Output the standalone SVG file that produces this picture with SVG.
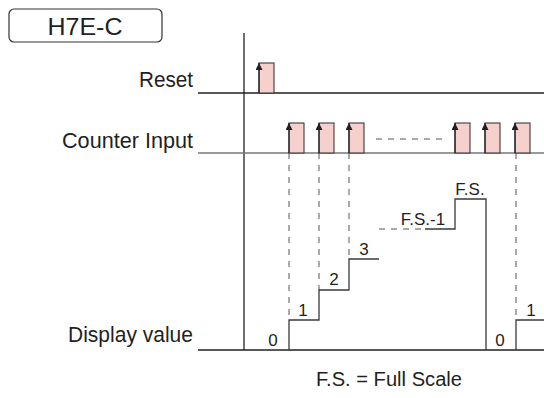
<svg xmlns="http://www.w3.org/2000/svg" width="544" height="398" viewBox="0 0 544 398">
<defs>
<style>
text{font-family:"Liberation Sans",Arial,sans-serif;fill:#231f20}
.lbl{font-size:22px;text-anchor:end}
.num{font-size:17px;text-anchor:middle}
.ax{stroke:#231f20;stroke-width:1.3;fill:none}
.pulse{fill:#f5d0cc;stroke:#3a3a3a;stroke-width:1.1}
.arr{stroke:#231f20;stroke-width:1.2;marker-end:url(#ah)}
.dash{stroke:#555;stroke-width:1;stroke-dasharray:6,6;fill:none}
.step{stroke:#3a3a3a;stroke-width:1.3;fill:none}
</style>
<marker id="ah" viewBox="0 0 10 10" refX="10" refY="5" markerWidth="7" markerHeight="7" markerUnits="userSpaceOnUse" orient="auto">
<path d="M0,0 L10,5 L0,10 z" fill="#231f20"/>
</marker>
</defs>
<g id="title">
<rect x="9" y="9" width="153" height="33" rx="5" fill="#fff" stroke="#333" stroke-width="1.2"/>
<text x="85" y="35" style="font-size:24px" text-anchor="middle" textLength="75" lengthAdjust="spacingAndGlyphs">H7E-C</text>
</g>
<g id="axes">
<line class="ax" x1="244" y1="33" x2="244" y2="350"/>
<line class="ax" x1="198" y1="93" x2="544" y2="93"/>
<line x1="198" y1="153" x2="544" y2="153" stroke="#777" stroke-width="1.3"/>
<line class="ax" x1="198" y1="350" x2="544" y2="350"/>
</g>
<g id="labels">
<text class="lbl" x="193" y="87" textLength="54" lengthAdjust="spacingAndGlyphs">Reset</text>
<text class="lbl" x="193" y="148" textLength="131" lengthAdjust="spacingAndGlyphs">Counter Input</text>
<text class="lbl" x="193" y="342" textLength="125" lengthAdjust="spacingAndGlyphs">Display value</text>
</g>
<g id="reset-pulse">
<rect class="pulse" x="259" y="63" width="15" height="30"/>
<line class="arr" x1="259" y1="93" x2="259" y2="63"/>
</g>
<g id="counter-pulses">
<rect class="pulse" x="289" y="123" width="15" height="30"/>
<line class="arr" x1="289" y1="153" x2="289" y2="123"/>
<rect class="pulse" x="319" y="123" width="15" height="30"/>
<line class="arr" x1="319" y1="153" x2="319" y2="123"/>
<rect class="pulse" x="349" y="123" width="15" height="30"/>
<line class="arr" x1="349" y1="153" x2="349" y2="123"/>
<rect class="pulse" x="455" y="123" width="15" height="30"/>
<line class="arr" x1="455" y1="153" x2="455" y2="123"/>
<rect class="pulse" x="485" y="123" width="15" height="30"/>
<line class="arr" x1="485" y1="153" x2="485" y2="123"/>
<rect class="pulse" x="515" y="123" width="15" height="30"/>
<line class="arr" x1="515" y1="153" x2="515" y2="123"/>
<line class="dash" x1="376" y1="139" x2="446" y2="139"/>
</g>
<g id="connectors">
<line class="dash" x1="289" y1="153" x2="289" y2="320"/>
<line class="dash" x1="319" y1="153" x2="319" y2="290"/>
<line class="dash" x1="349" y1="153" x2="349" y2="259"/>
<line class="dash" x1="516" y1="153" x2="516" y2="320"/>
</g>
<g id="display">
<polyline class="step" points="289,350 289,320 319,320 319,290 349,290 349,259 379,259"/>
<line class="dash" x1="379" y1="229" x2="425" y2="229"/>
<polyline class="step" points="425,229 455,229 455,199 486,199 486,350"/>
<polyline class="step" points="516,350 516,320 544,320"/>
<text class="num" x="273" y="346">0</text>
<text class="num" x="303" y="316">1</text>
<text class="num" x="334" y="285">2</text>
<text class="num" x="364" y="255">3</text>
<text class="num" x="423" y="225">F.S.-1</text>
<text class="num" x="470" y="195">F.S.</text>
<text class="num" x="500" y="346">0</text>
<text class="num" x="531" y="316">1</text>
</g>
<text x="389" y="386" style="font-size:20px" text-anchor="middle" textLength="146" lengthAdjust="spacingAndGlyphs">F.S. = Full Scale</text>
</svg>
